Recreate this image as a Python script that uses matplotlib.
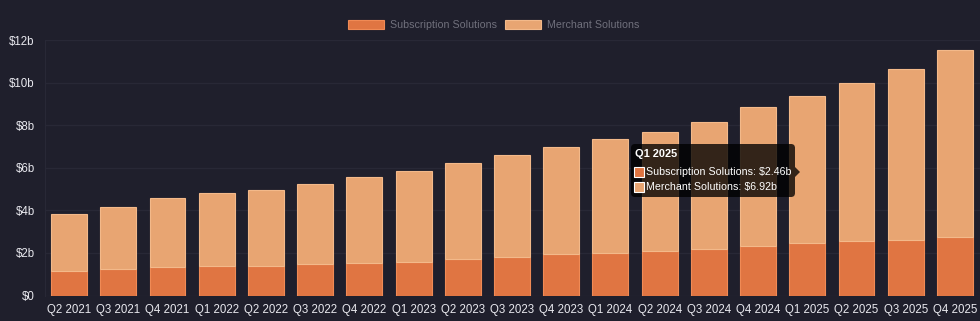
import matplotlib
matplotlib.use("Agg")
import matplotlib.pyplot as plt
from matplotlib.patches import FancyBboxPatch, Rectangle, Polygon
import numpy as np

quarters = ["Q2 2021", "Q3 2021", "Q4 2021", "Q1 2022", "Q2 2022", "Q3 2022",
            "Q4 2022", "Q1 2023", "Q2 2023", "Q3 2023", "Q4 2023", "Q1 2024",
            "Q2 2024", "Q3 2024", "Q4 2024", "Q1 2025", "Q2 2025", "Q3 2025",
            "Q4 2025"]
subscription = [1.13, 1.24, 1.32, 1.39, 1.40, 1.46, 1.51, 1.59, 1.71, 1.81,
                1.93, 1.98, 2.07, 2.18, 2.32, 2.46, 2.55, 2.61, 2.75]
merchant = [2.68, 2.93, 3.26, 3.41, 3.57, 3.76, 4.06, 4.27, 4.53, 4.78,
            5.04, 5.35, 5.62, 5.97, 6.52, 6.92, 7.42, 8.03, 8.77]
y_ticks = [0, 2, 4, 6, 8, 10, 12]
y_tick_labels = ["$0", "$2b", "$4b", "$6b", "$8b", "$10b", "$12b"]

BG = "#1f1f2c"
SUB_C = "#e07542"
MER_C = "#e8a572"
FONT = "Liberation Sans"

plt.rcParams["font.family"] = [FONT, "DejaVu Sans"]

W, H = 980, 321
fig = plt.figure(figsize=(W / 100, H / 100), dpi=100, facecolor=BG)
ax = fig.add_axes([44.5 / W, 1 - 295.5 / H, 935 / W, 255.5 / H], facecolor=BG)

x = np.arange(len(quarters))
bw = 0.73
ax.bar(x, subscription, width=bw, color=SUB_C, edgecolor="#f08a55",
       linewidth=0.8, label="Subscription Solutions", zorder=3)
ax.bar(x, merchant, width=bw, bottom=subscription, color=MER_C,
       edgecolor="#f3b98a", linewidth=0.8, label="Merchant Solutions", zorder=3)

ax.set_xlim(-0.5, len(quarters) - 0.5)
ax.set_ylim(0, 12)
ax.set_yticks(y_ticks)
ax.set_yticklabels(y_tick_labels)
ax.set_xticks(x)
ax.set_xticklabels(quarters)
ax.tick_params(axis="both", length=0, colors="#e8e8ee", labelsize=8.3)
ax.tick_params(axis="y", pad=7)
ax.tick_params(axis="x", pad=6)
ax.grid(axis="y", color="#282836", linewidth=1, zorder=0)
for s in ["top", "right", "bottom"]:
    ax.spines[s].set_visible(False)
ax.spines["left"].set_color("#282836")

leg = fig.legend(loc="center", bbox_to_anchor=(494 / W, 1 - 25 / H), ncol=2,
                 frameon=False, fontsize=7.7, handlelength=3.37,
                 handleheight=1.0, columnspacing=0.75, handletextpad=0.56)
for t in leg.get_texts():
    t.set_color("#70707c")

# Hover tooltip for Q1 2025
ov = fig.add_axes([0, 0, 1, 1], facecolor="none")
ov.set_xlim(0, W)
ov.set_ylim(H, 0)
ov.axis("off")
ov.add_patch(FancyBboxPatch((631, 144), 164, 53,
                            boxstyle="round,pad=0,rounding_size=4",
                            facecolor="#000000", alpha=0.78,
                            edgecolor="none", zorder=5))
ov.add_patch(Polygon([[795, 167], [800, 172], [795, 177]], closed=True,
                     facecolor="#000000", alpha=0.78, edgecolor="none",
                     zorder=5))
i = quarters.index("Q1 2025")
ov.text(635, 154, quarters[i], color="white", fontsize=7.9,
        fontweight="bold", va="center", ha="left", zorder=6)
rows = [("Subscription Solutions", subscription[i], SUB_C, 172),
        ("Merchant Solutions", merchant[i], MER_C, 187)]
for name, val, col, yy in rows:
    ov.add_patch(Rectangle((634, yy - 5), 10, 10, facecolor=col,
                           edgecolor="white", linewidth=0.8, zorder=6))
    ov.text(646, yy, f"{name}: ${val:.2f}b", color="white", fontsize=7.7,
            va="center", ha="left", zorder=6)

fig.savefig("out.png", dpi=100, facecolor=BG)
